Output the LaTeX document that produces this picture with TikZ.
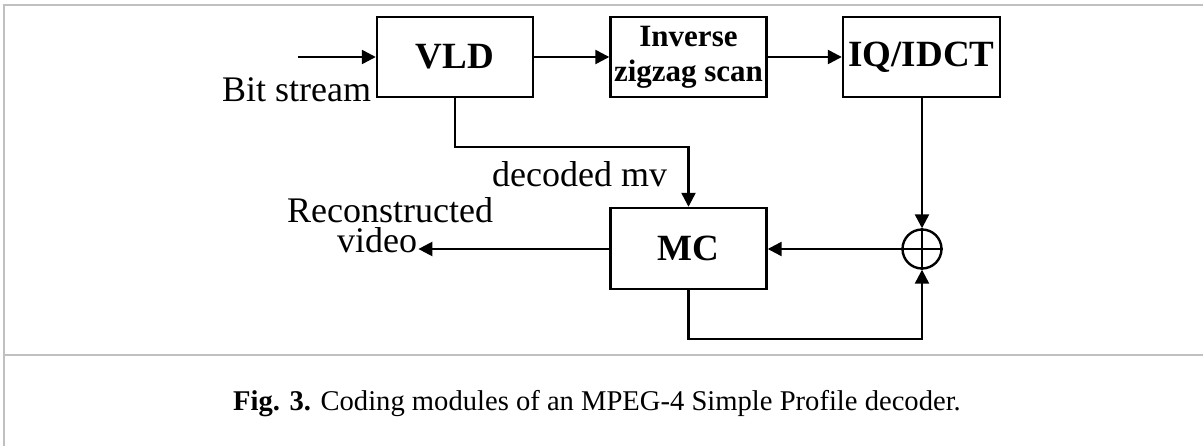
\documentclass[tikz,border=0pt]{standalone}
\usepackage{fontspec}
\setmainfont{Liberation Serif}
\usetikzlibrary{arrows.meta}

\definecolor{framegray}{HTML}{C0C0C0}

\begin{document}
\begin{tikzpicture}[x=1pt,y=-1pt,
  wire/.style={line width=2.4pt},
  flow/.style={wire, -{Triangle[length=14pt,width=14pt]}},
  block/.style={draw, line width=2.4pt, inner sep=0pt, align=center,
    minimum width=156pt, minimum height=80pt,
    font=\fontsize{37}{40}\selectfont\bfseries},
  lbl/.style={inner sep=0pt, font=\fontsize{36}{40}\selectfont},
  frame/.style={draw=framegray, line width=2pt}
]
\useasboundingbox (0,0) rectangle (1203,446);

% panel frame
\draw[frame] (4,446) -- (4,5) -- (1203,5);
\draw[frame] (4,355) -- (1203,355);

% processing blocks
\node[block] (vld) at (455,57) {VLD};
\node[block, font=\fontsize{31}{35}\selectfont\bfseries] (izz) at (688.5,57) {Inverse\\zigzag scan};
\node[block, minimum width=157pt] (iq) at (921.5,57) {IQ/IDCT};
\node[block, minimum height=81pt] (mc) at (688.5,248.5) {MC};
\node[circle, draw, line width=2.4pt, minimum size=39pt, inner sep=0pt] (sum) at (922,249) {};
\draw[wire] (sum.north) -- (sum.south) (sum.west) -- (sum.east);

% labels
\node[lbl, anchor=base west] (bits) at (222,102) {Bit stream};
\node[lbl, anchor=base west] (mv) at (492,187) {decoded mv};
\node[lbl, anchor=base west, text depth=0pt] (rec) at (287,223) {Reconstructed};
\node[lbl, anchor=base west, text height=25pt, inner xsep=1pt] (vid) at (336,253) {video};

\coordinate (src) at (298,57);
\coordinate (mvbend) at (455,147);
\coordinate (loop) at (688.5,339);

% connectors
\draw[flow] (src) -- (vld.west);
\draw[flow] (vld.east) -- (izz.west);
\draw[flow] (izz.east) -- (iq.west);
\draw[flow] (iq.south -| sum.north) -- (sum.north);
\draw[flow] (sum.west) -- (mc.east |- sum.west);
\draw[flow] (mc.west |- sum.west) -- (vid.east |- sum.west);
\draw[flow] (vld.south) -- (mvbend) -| (mc.north);
\draw[flow] (mc.south) -- (loop) -| (sum.south);

% caption
\node[inner sep=0pt, anchor=base west, font=\fontsize{28.6}{30}\selectfont] (cap) at (233,410)
  {\textbf{Fig. 3.} Coding modules of an MPEG-4 Simple Profile decoder.};
\end{tikzpicture}
\end{document}
